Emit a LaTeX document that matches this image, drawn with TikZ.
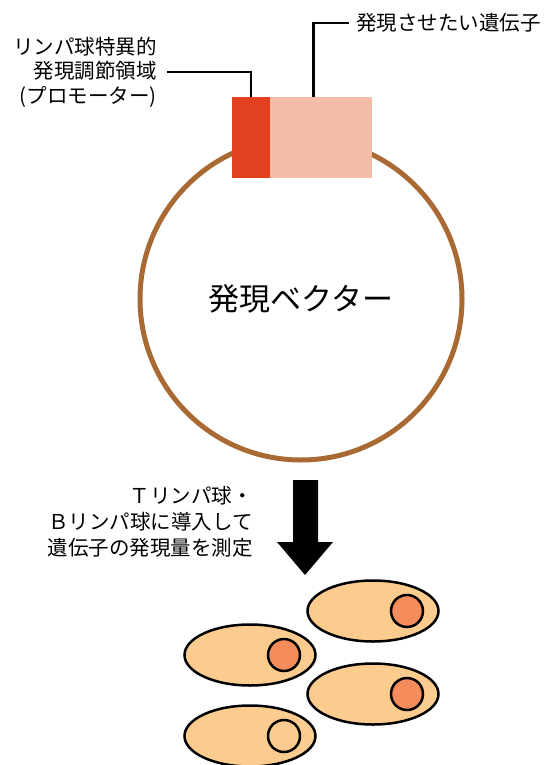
\documentclass[tikz,border=0pt]{standalone}
\usepackage{fontspec}
\setmainfont{Noto Sans CJK JP}
\usetikzlibrary{positioning,shapes.geometric}
\definecolor{vecbrown}{RGB}{168,106,50}
\definecolor{promred}{RGB}{226,64,32}
\definecolor{genepink}{RGB}{243,189,168}
\definecolor{cellfill}{RGB}{251,204,142}
\definecolor{nucfill}{RGB}{245,140,92}

\begin{document}
\begin{tikzpicture}[x=1pt,y=-1pt,
  lbl/.style={font=\fontsize{20.5}{24.5}\selectfont, inner sep=0pt},
  conn/.style={line width=2.4pt},
  cell/.style={ellipse, draw, line width=2.5pt, fill=cellfill, minimum width=131pt, minimum height=61pt, inner sep=0pt},
  nucleus/.style={circle, draw, line width=2.5pt, fill=nucfill, minimum size=32pt, inner sep=0pt}]
 \useasboundingbox (0,0) rectangle (547,765);
 % plasmid and its insert
 \node[circle, draw=vecbrown, line width=5pt, minimum size=322pt, font=\fontsize{31}{31}\selectfont] (vector) at (301,299) {発現ベクター};
 \node[fill=promred, minimum width=38pt, minimum height=81pt, inner sep=0pt] (promoter) at (251,137.5) {};
 \node[fill=genepink, minimum width=102pt, minimum height=81pt, inner sep=0pt, right=0pt of promoter] (gene) {};
 \node[lbl, align=right, anchor=east] (promlabel) at (157,72) {リンパ球特異的\\発現調節領域\\(プロモーター)};
 \node[lbl, anchor=west] (genelabel) at (356,23) {発現させたい遺伝子};
 \draw[conn] ([xshift=10pt]promlabel.east) -| (promoter.north);
 \coordinate (genepin) at ([xshift=-8pt]gene.north);
 \draw[conn] (genepin) |- ([xshift=-7pt]genelabel.west);
 % transfection step
 \node[lbl, font=\fontsize{20.5}{26}\selectfont, align=right, anchor=east] (steplabel) at (253,522) {Ｔリンパ球・\\Ｂリンパ球に導入して\\遺伝子の発現量を測定};
 \fill (293,480) -- (318,480) -- (318,542) -- (333,542) -- (305,575) -- (277,542) -- (293,542) -- cycle;
 % lymphocytes
 \node[cell] (cellA) at (373,611) {};
 \node[cell] (cellB) at (250,655) {};
 \node[cell] (cellC) at (373,694) {};
 \node[cell] (cellD) at (250,736) {};
 \node[nucleus] (nucA) at ([xshift=34pt]cellA.center) {};
 \node[nucleus] (nucB) at ([xshift=34pt]cellB.center) {};
 \node[nucleus] (nucC) at ([xshift=34pt]cellC.center) {};
 \node[nucleus, fill=cellfill] (nucD) at ([xshift=34pt]cellD.center) {};
\end{tikzpicture}
\end{document}
